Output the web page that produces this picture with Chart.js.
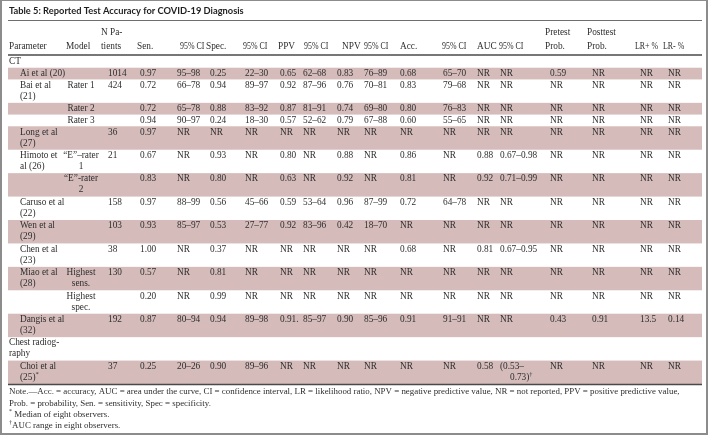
<!DOCTYPE html>
<html>
<head>
<meta charset="utf-8">
<script src="https://cdn.jsdelivr.net/npm/chart.js@4.4.1/dist/chart.umd.min.js"></script>
<style>
    html, body { margin: 0; padding: 0; background: #fff; }
    #wrap { width: 709px; height: 435px; position: relative; }
</style>
</head>
<body>
<div id="wrap"><canvas id="table-canvas"></canvas></div>
<script>
// 表のデータ
const title = 'Table 5: Reported Test Accuracy for COVID-19 Diagnosis';
const headTop = ['', '', 'N Pa-', '', '', '', '', '', '', '', '', '', '', '', '', 'Pretest', 'Posttest', '', ''];
const headBottom = ['Parameter', 'Model', 'tients', 'Sen.', '95% CI', 'Spec.', '95% CI', 'PPV', '95% CI', 'NPV',
    '95% CI', 'Acc.', '95% CI', 'AUC', '95% CI', 'Prob.', 'Prob.', 'LR+ %', 'LR- %'];

const isSection = [true, false, false, false, false, false, false, false, false, false, false, false, false, false, true, false];
const params = ['CT', 'Ai et al (20)', 'Bai et al\n(21)', '', '', 'Long et al\n(27)', 'Himoto et\nal (26)', '',
    'Caruso et al\n(22)', 'Wen et al\n(29)', 'Chen et al\n(23)', 'Miao et al\n(28)', '', 'Dangis et al\n(32)',
    'Chest radiog-\nraphy', 'Choi et al\n(25)*'];
const models = ['', '', 'Rater 1', 'Rater 2', 'Rater 3', '', '\u201cE\u201d\u2013rater\n1', '\u201cE\u201d-rater\n2', '', '', '',
    'Highest\nsens.', 'Highest\nspec.', '', '', ''];
const nPatients = ['', '1014', '424', '', '', '36', '21', '', '158', '103', '38', '130', '', '192', '', '37'];
const sen = ['', '0.97', '0.72', '0.72', '0.94', '0.97', '0.67', '0.83', '0.97', '0.93', '1.00', '0.57', '0.20', '0.87', '', '0.25'];
const senCI = ['', '95–98', '66–78', '65–78', '90–97', 'NR', 'NR', 'NR', '88–99', '85–97', 'NR', 'NR', 'NR', '80–94', '', '20–26'];
const spec = ['', '0.25', '0.94', '0.88', '0.24', 'NR', '0.93', '0.80', '0.56', '0.53', '0.37', '0.81', '0.99', '0.94', '', '0.90'];
const specCI = ['', '22–30', '89–97', '83–92', '18–30', 'NR', 'NR', 'NR', '45–66', '27–77', 'NR', 'NR', 'NR', '89–98', '', '89–96'];
const ppv = ['', '0.65', '0.92', '0.87', '0.57', 'NR', '0.80', '0.63', '0.59', '0.92', 'NR', 'NR', 'NR', '0.91.', '', 'NR'];
const ppvCI = ['', '62–68', '87–96', '81–91', '52–62', 'NR', 'NR', 'NR', '53–64', '83–96', 'NR', 'NR', 'NR', '85–97', '', 'NR'];
const npv = ['', '0.83', '0.76', '0.74', '0.79', 'NR', '0.88', '0.92', '0.96', '0.42', 'NR', 'NR', 'NR', '0.90', '', 'NR'];
const npvCI = ['', '76–89', '70–81', '69–80', '67–88', 'NR', 'NR', 'NR', '87–99', '18–70', 'NR', 'NR', 'NR', '85–96', '', 'NR'];
const acc = ['', '0.68', '0.83', '0.80', '0.60', 'NR', '0.86', '0.81', '0.72', 'NR', '0.68', 'NR', 'NR', '0.91', '', 'NR'];
const accCI = ['', '65–70', '79–68', '76–83', '55–65', 'NR', 'NR', 'NR', '64–78', 'NR', 'NR', 'NR', 'NR', '91–91', '', 'NR'];
const auc = ['', 'NR', 'NR', 'NR', 'NR', 'NR', '0.88', '0.92', 'NR', 'NR', '0.81', 'NR', 'NR', 'NR', '', '0.58'];
const aucCI = ['', 'NR', 'NR', 'NR', 'NR', 'NR', '0.67–0.98', '0.71–0.99', 'NR', 'NR', '0.67–0.95', 'NR', 'NR', 'NR', '', '(0.53–\n0.73)†'];
const pretest = ['', '0.59', 'NR', 'NR', 'NR', 'NR', 'NR', 'NR', 'NR', 'NR', 'NR', 'NR', 'NR', '0.43', '', 'NR'];
const posttest = ['', 'NR', 'NR', 'NR', 'NR', 'NR', 'NR', 'NR', 'NR', 'NR', 'NR', 'NR', 'NR', '0.91', '', 'NR'];
const lrPlus = ['', 'NR', 'NR', 'NR', 'NR', 'NR', 'NR', 'NR', 'NR', 'NR', 'NR', 'NR', 'NR', '13.5', '', 'NR'];
const lrMinus = ['', 'NR', 'NR', 'NR', 'NR', 'NR', 'NR', 'NR', 'NR', 'NR', 'NR', 'NR', 'NR', '0.14', '', 'NR'];

const notes = [
    'Note.\u2014Acc. = accuracy, AUC = area under the curve, CI = confidence interval, LR = likelihood ratio, NPV = negative predictive value, NR = not reported, PPV = positive predictive value,',
    'Prob. = probability, Sen. = sensitivity, Spec = specificity.',
    '* Median of eight observers.',
    '†AUC range in eight observers.'
];

// レイアウト
const columns = [params, models, nPatients, sen, senCI, spec, specCI, ppv, ppvCI, npv, npvCI,
    acc, accCI, auc, aucCI, pretest, posttest, lrPlus, lrMinus];
const colX = [20, 81, 108, 140, 177, 210, 245, 280, 303, 337, 364, 400, 443, 477, 500, 550, 592, 640, 668];
const headX = [9, 66, 101, 137, 180, 206, 243, 278, 304, 342, 364, 400, 442, 477, 499, 545, 587, 635, 663];
const sectionX = 9;
const tableLeft = 8, tableRight = 702;
const shade = '#d5bcbb';
const textColor = '#2e2e2e';
const fontSize = 9.3;
const noteSize = 8.9;
const lineGap = 11;

let rowLines = params.map((p, r) => Math.max(...columns.map(col => col[r] ? col[r].split('\n').length : 1)));
let rowTop = [];
let acc0 = 0;
rowLines.forEach(n => { rowTop.push(acc0); acc0 += n; });
const totalUnits = acc0;

// セルを点として作る
let cells = [];
columns.forEach((col, c) => {
    col.forEach((txt, r) => {
        if (!txt) return;
        cells.push({x: (c === 0 && isSection[r]) ? sectionX : colX[c], y: rowTop[r] + 0.5, text: txt, col: c});
    });
});

function drawRich(ctx, txt, x, y, align, size, sx) {
    // * と † は上付き
    size = size || fontSize;
    sx = sx || 1;
    const normal = size + 'px "Liberation Serif"';
    const sup = (size * 0.7) + 'px "Liberation Serif"';
    let parts = [];
    for (const ch of txt) {
        let s = (ch === '*' || ch === '†');
        if (parts.length && parts[parts.length - 1].sup === s) parts[parts.length - 1].t += ch;
        else parts.push({t: ch, sup: s});
    }
    let w = 0;
    parts.forEach(p => { ctx.font = p.sup ? sup : normal; p.w = ctx.measureText(p.t).width * sx; w += p.w; });
    let cx = align === 'center' ? x - w / 2 : x;
    ctx.textAlign = 'left';
    parts.forEach(p => {
        ctx.font = p.sup ? sup : normal;
        ctx.save();
        ctx.translate(cx, p.sup ? y - 3 : y);
        ctx.scale(sx, 1);
        ctx.fillText(p.t, 0, 0);
        ctx.restore();
        cx += p.w;
    });
}

const tablePlugin = {
    id: 'tablePlugin',
    beforeDatasetsDraw(chart) {
        const {ctx, scales: {x, y}} = chart;
        ctx.save();
        // 行の背景
        ctx.fillStyle = shade;
        rowLines.forEach((n, r) => {
            if (r % 2 !== 1) return;
            let y0 = y.getPixelForValue(rowTop[r]);
            let y1 = y.getPixelForValue(rowTop[r] + n);
            let x0 = x.getPixelForValue(tableLeft);
            let x1 = x.getPixelForValue(tableRight);
            ctx.fillRect(x0, y0, x1 - x0, y1 - y0);
        });
        ctx.restore();
    },
    afterDatasetsDraw(chart) {
        const {ctx, chartArea, scales: {x, y}} = chart;
        const meta = chart.getDatasetMeta(0);
        ctx.save();
        ctx.fillStyle = textColor;
        ctx.textBaseline = 'middle';
        meta.data.forEach((pt, i) => {
            const cell = cells[i];
            const align = cell.col === 1 ? 'center' : 'left';
            cell.text.split('\n').forEach((line, k) => {
                let lx = pt.x;
                if (k > 0 && cell.col === 14) lx = pt.x + 10;
                drawRich(ctx, line, lx, pt.y + k * lineGap, (k > 0 && cell.col === 14) ? 'left' : align);
            });
        });

        const x0 = x.getPixelForValue(tableLeft), x1 = x.getPixelForValue(tableRight);
        const top = chartArea.top, bottom = chartArea.bottom;

        // タイトル
        ctx.fillStyle = '#1e1e1e';
        ctx.font = 'bold 9.3px Lato';
        ctx.textAlign = 'left';
        ctx.fillText(title, 9, top - 45);

        // ヘッダー
        ctx.fillStyle = textColor;
        headTop.forEach((h, c) => { if (h) drawRich(ctx, h, headX[c], top - 23, 'left'); });
        headBottom.forEach((h, c) => {
            if (h) drawRich(ctx, h, headX[c], top - 9, 'left', fontSize, h.includes('%') ? 0.85 : 1);
        });

        // 罫線
        ctx.strokeStyle = '#6f6f6f';
        ctx.lineWidth = 1;
        ctx.beginPath(); ctx.moveTo(x0, top - 35.5); ctx.lineTo(x1, top - 35.5); ctx.stroke();
        ctx.strokeStyle = '#4a4a4a';
        ctx.lineWidth = 1.5;
        ctx.beginPath(); ctx.moveTo(x0, top - 1); ctx.lineTo(x1, top - 1); ctx.stroke();
        ctx.beginPath(); ctx.moveTo(x0, bottom + 0.5); ctx.lineTo(x1, bottom + 0.5); ctx.stroke();

        // 注記
        notes.forEach((n, k) => {
            drawRich(ctx, n, 9, bottom + 8 + k * 11.2, 'left', noteSize);
        });

        // 外枠
        ctx.strokeStyle = '#8c8c8c';
        ctx.lineWidth = 2;
        ctx.strokeRect(1, 0, 706, 434);
        ctx.restore();
    }
};

let ctx = document.getElementById('table-canvas').getContext('2d');
let chart = new Chart(ctx, {
    type: 'scatter',
    data: {
        datasets: [{
            label: 'cells',
            data: cells,
            pointRadius: 0,
            pointHoverRadius: 0
        }]
    },
    options: {
        responsive: true,
        maintainAspectRatio: false,
        animation: false,
        events: [],
        layout: {padding: {top: 56, bottom: 51, left: 0, right: 0}},
        plugins: {legend: {display: false}, tooltip: {enabled: false}},
        scales: {
            x: {type: 'linear', min: 0, max: 709, display: false},
            y: {type: 'linear', min: 0, max: totalUnits, reverse: true, display: false}
        }
    },
    plugins: [tablePlugin]
});
</script>
</body>
</html>
